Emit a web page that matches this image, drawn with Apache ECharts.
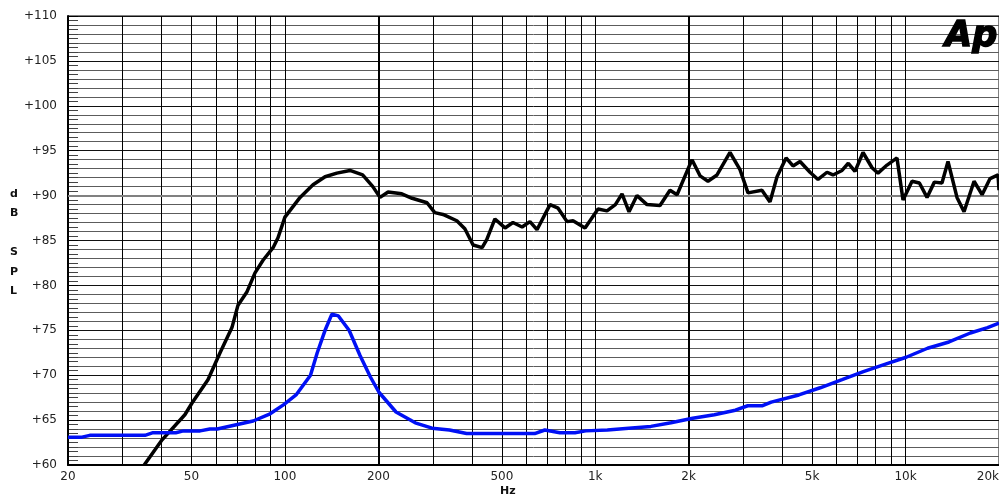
<!DOCTYPE html>
<html><head><meta charset="utf-8">
<script src="https://cdn.jsdelivr.net/npm/echarts@6/dist/echarts.min.js"></script>
<style>html,body{margin:0;padding:0;background:#fff}#c{width:999px;height:497px}</style>
</head><body><div id="c"></div>
<script>
// Black curve: SPL response (Hz, dB)
const splFreq = [35.2,40.2,47.6,50.2,56.5,61.8,67.5,70.6,75.5,80.1,85,91.6,95,100,111.9,123.2,134.7,147,162,178,192,202.5,215,238,257,287,304,323,358,380,404,432,447,475,512,543,581,616,649,715,759,811,848,927,1021,1091,1161,1220,1285,1363,1468,1617,1741,1835,2050,2176,2308,2468,2718,2927,3106,3445,3657,3853,4120,4338,4570,4921,5222,5583,5835,6240,6538,6871,7292,7797,8150,8714,9383,9812,10490,11080,11725,12380,13100,13700,14645,15430,16620,17640,18720,19860,20000];
const splDb   = [60,62.8,65.6,66.9,69.5,72.5,75.3,77.8,79.3,81.4,82.8,84.2,85.3,87.6,89.8,91.2,92.1,92.5,92.8,92.3,91.0,89.8,90.4,90.2,89.7,89.2,88.1,87.9,87.2,86.3,84.5,84.2,85.1,87.4,86.4,87.0,86.5,87.1,86.2,89.0,88.6,87.1,87.2,86.4,88.5,88.3,89.0,90.2,88.2,90.0,89.0,88.9,90.6,90.1,94.0,92.2,91.6,92.3,94.8,92.9,90.3,90.6,89.3,92.1,94.2,93.3,93.8,92.6,91.8,92.6,92.3,92.8,93.6,92.7,94.8,93.1,92.5,93.4,94.2,89.5,91.6,91.4,89.8,91.5,91.4,93.8,89.8,88.2,91.6,90.1,91.9,92.3,90.6];
// Blue curve (Hz, dB)
const blueFreq = [20,22.2,23.5,35.4,37.6,44.5,47.1,53.3,57.3,60.5,68,79,89.6,98.9,108.6,120.9,127.1,134.7,141.7,148.7,161,174.6,188.6,200.9,228,263,298,339,385,638,688,769,860,932,1094,1282,1511,1754,2060,2420,2828,3100,3462,3690,4530,5306,6240,7311,8570,10045,11770,13800,16170,18370,20000];
const blueDb   = [63.1,63.1,63.3,63.3,63.6,63.6,63.8,63.8,64.0,64.0,64.4,64.9,65.7,66.7,67.8,70.0,72.5,75.0,76.8,76.6,75.0,72.2,69.8,68.1,65.9,64.7,64.1,63.9,63.5,63.5,63.9,63.6,63.6,63.8,63.9,64.1,64.3,64.7,65.2,65.6,66.1,66.6,66.6,67.0,67.8,68.6,69.5,70.4,71.2,72.0,73.0,73.7,74.7,75.3,75.8];
// Vertical grid frequencies and labelled ticks
const gridFreqs = [20,30,40,50,60,70,80,90,100,200,300,400,500,600,700,800,900,1000,2000,3000,4000,5000,6000,7000,8000,9000,10000,20000];
const heavyFreqs = [200,2000];
const xTickValues = [20,50,100,200,500,1000,2000,5000,10000,20000];
const xTickLabels = ['20','50','100','200','500','1k','2k','5k','10k','20k'];

const FONT = 'DejaVu Sans';
const zip = (a,b) => a.map((v,i)=>[v,b[i]]);

const vLines = gridFreqs.map(f => {
  const i = xTickValues.indexOf(f);
  const item = {
    xAxis: f,
    label: i < 0 ? {show: false} : {show: true, position: 'start', formatter: xTickLabels[i], distance: 6, color: '#222', fontFamily: FONT, fontSize: 12}
  };
  if (f === 20000) item.label.align = 'right';
  if (heavyFreqs.indexOf(f) >= 0) item.lineStyle = {width: 2};
  return item;
});

const chart = echarts.init(document.getElementById('c'), null, {renderer: 'canvas'});
chart.setOption({
  animation: false,
  backgroundColor: '#fff',
  grid: {left: 68, right: 0, top: 16, bottom: 32, show: true, borderColor: '#000', borderWidth: 1, backgroundColor: 'transparent'},
  xAxis: {
    type: 'log', logBase: 10, min: 20, max: 20000,
    axisLine: {show: true, lineStyle: {color: '#000', width: 2}},
    axisTick: {show: false}, axisLabel: {show: false}, splitLine: {show: false}
  },
  yAxis: [{
    type: 'value', min: 60, max: 110, interval: 5,
    axisLine: {show: true, lineStyle: {color: '#000', width: 2}},
    axisTick: {show: false},
    axisLabel: {formatter: v => '+' + v, color: '#222', fontFamily: FONT, fontSize: 12, margin: 11},
    splitLine: {show: true, lineStyle: {color: '#111', width: 1}},
    minorTick: {show: false, splitNumber: 5},
    minorSplitLine: {show: true, lineStyle: {color: '#5c5c5c', width: 1}}
  }, {
    type: 'value', min: 60, max: 110, interval: 5, position: 'left',
    axisLine: {show: false}, axisLabel: {show: false}, splitLine: {show: false},
    axisTick: {show: true, inside: true, length: 10, lineStyle: {color: '#000'}},
    minorTick: {show: true, splitNumber: 10, length: 10, lineStyle: {color: '#444'}}
  }],
  graphic: [
    {type: 'text', left: 10, top: 184, style: {text: 'd\nB\n\nS\nP\nL', font: 'bold 11px "DejaVu Sans"', fill: '#111', lineHeight: 19.5, align: 'center'}},
    {type: 'text', left: 500, top: 486, style: {text: 'Hz', font: 'bold 11px "DejaVu Sans"', fill: '#111'}},
    {type: 'text', right: 1, top: 19, z: 20, style: {text: 'Ap', font: 'italic bold 35px "DejaVu Sans"', fill: '#000', stroke: '#000', lineWidth: 1.5}}
  ],
  series: [
    {
      type: 'line', data: [], symbol: 'none', silent: true, z: 1,
      markLine: {
        silent: true, symbol: 'none', animation: false, z: 1,
        lineStyle: {color: '#000', width: 1, type: 'solid'},
        data: vLines.concat([{yAxis: 90, lineStyle: {color: '#808080', width: 2}, label: {show: false}}])
      }
    },
    {type: 'line', name: 'SPL', data: zip(splFreq, splDb), symbol: 'none', z: 3,
     lineStyle: {color: '#000', width: 3.5}},
    {type: 'line', name: 'Blue', data: zip(blueFreq, blueDb), symbol: 'none', z: 3,
     lineStyle: {color: '#0010f5', width: 3.5}}
  ]
});
</script></body></html>
